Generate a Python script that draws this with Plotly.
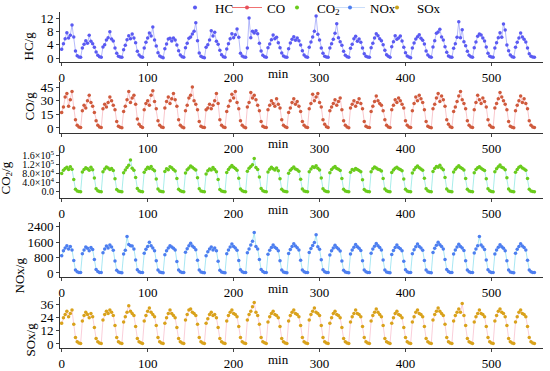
import plotly.graph_objects as go

# sampling time (min), one point every 2 min
time_min = [2 * i for i in range(276)]

hc = [
    2.6,4.3,5.8,7.6,6.0,6.8,9.9,6.3,2.1,0.7,0.3,0.2,
    3.0,4.1,5.2,4.4,6.8,5.0,4.3,3.2,1.8,0.8,0.4,0.2,
    3.3,4.0,5.4,6.1,7.9,5.7,5.1,3.0,1.4,0.5,0.3,0.2,
    2.5,3.8,5.5,6.7,5.8,7.2,6.0,4.6,2.0,0.9,0.4,0.2,
    3.0,4.7,6.0,7.5,6.6,9.3,5.4,3.6,1.6,0.6,0.3,0.1,
    2.8,4.2,5.7,5.9,5.1,6.0,5.4,3.9,2.2,0.9,0.4,0.2,
    3.1,4.4,5.9,6.3,7.2,8.0,10.6,5.2,1.5,0.5,0.2,0.1,
    3.2,4.0,5.4,8.2,6.6,7.7,5.0,4.1,2.3,1.0,0.4,0.2,
    2.7,4.3,5.8,7.3,6.1,7.0,8.7,6.2,1.4,0.6,0.3,0.2,
    3.0,12.0,6.1,8.0,7.5,8.2,7.3,4.4,2.1,0.8,0.4,0.2,
    3.1,4.2,5.5,6.9,5.8,6.2,4.6,3.1,1.5,0.6,0.3,0.2,
    2.8,4.5,5.6,6.4,5.3,6.0,5.2,3.9,2.2,0.9,0.4,0.2,
    3.2,4.8,6.3,8.0,12.6,7.1,5.4,3.0,1.4,0.5,0.3,0.2,
    3.0,4.3,5.6,7.4,10.3,6.1,4.9,3.8,2.0,0.8,0.4,0.2,
    2.9,4.1,5.8,6.5,5.0,5.7,4.7,3.0,1.3,0.5,0.3,0.2,
    3.1,4.4,6.0,7.3,6.7,5.8,5.2,4.0,2.3,1.0,0.5,0.2,
    3.4,4.9,6.7,5.6,6.0,6.6,5.1,3.2,1.6,0.6,0.3,0.1,
    3.0,4.5,5.7,6.4,7.0,5.9,5.3,4.2,2.1,0.9,0.4,0.2,
    3.3,5.2,7.4,7.8,8.6,6.3,5.4,3.4,1.7,0.6,0.3,0.2,
    2.9,4.3,6.2,10.9,6.1,8.5,4.9,3.7,2.0,0.8,0.4,0.2,
    3.1,4.8,6.5,7.2,6.9,6.0,5.1,3.3,1.4,0.5,0.3,0.2,
    3.0,4.6,6.1,7.6,6.2,10.2,8.4,3.9,2.2,0.9,0.4,0.2,
    3.2,4.7,6.0,7.5,6.3,5.6,4.8,3.0,1.3,0.5,0.3,0.2,
]

co = [
    17,23,34,38,24,31,40,22,9,3,1.0,0.5,
    19,25,22,30,36,28,24,17,8,3,1.2,0.6,
    21,26,23,28,34,30,25,20,7,2,0.8,0.4,
    18,24,31,40,28,33,36,26,10,4,1.5,0.6,
    20,27,30,25,36,41,29,21,8,3,1.0,0.5,
    22,29,34,27,32,38,31,24,9,3,1.1,0.4,
    19,25,33,36,45,30,26,20,7,2,0.9,0.5,
    20,22,26,21,25,30,38,27,9,3,1.2,0.6,
    18,24,30,37,33,40,28,21,8,3,1.0,0.4,
    23,28,39,33,36,31,25,19,7,2,0.9,0.5,
    20,25,30,27,24,32,26,22,9,3,1.3,0.6,
    17,22,28,32,26,29,24,18,7,3,1.0,0.5,
    21,27,37,30,34,38,28,23,9,4,1.4,0.6,
    19,23,27,31,25,29,33,20,8,3,1.0,0.4,
    22,26,30,24,28,32,27,21,7,2,0.8,0.5,
    18,24,29,35,30,27,25,19,9,3,1.2,0.6,
    20,25,31,28,33,30,26,22,8,3,1.0,0.5,
    19,27,34,30,36,32,28,20,7,2,0.9,0.4,
    21,26,33,38,29,35,31,24,9,4,1.3,0.6,
    18,23,29,35,40,31,27,21,8,3,1.1,0.5,
    20,28,36,31,27,33,29,23,9,3,1.0,0.5,
    22,27,32,39,34,30,26,20,7,2,0.8,0.4,
    19,25,30,35,28,32,27,21,8,3,1.0,0.5,
]

co2 = [
    82e3,96e3,104e3,110e3,99e3,112e3,101e3,55e3,12e3,4e3,1.5e3,0.8e3,
    88e3,100e3,107e3,103e3,96e3,109e3,98e3,62e3,14e3,5e3,2e3,1e3,
    90e3,102e3,111e3,106e3,99e3,104e3,95e3,58e3,11e3,4e3,1.5e3,0.7e3,
    85e3,97e3,108e3,118e3,142e3,105e3,96e3,64e3,15e3,5e3,2e3,1e3,
    87e3,99e3,110e3,104e3,113e3,101e3,94e3,57e3,13e3,4e3,1.6e3,0.8e3,
    91e3,103e3,98e3,112e3,107e3,100e3,93e3,60e3,12e3,5e3,2e3,1e3,
    84e3,98e3,106e3,115e3,109e3,103e3,97e3,63e3,14e3,4e3,1.5e3,0.7e3,
    80e3,94e3,102e3,97e3,108e3,99e3,90e3,55e3,11e3,4e3,1.8e3,0.9e3,
    86e3,100e3,109e3,117e3,110e3,104e3,96e3,61e3,13e3,5e3,2e3,1e3,
    92e3,105e3,113e3,120e3,148e3,108e3,99e3,66e3,15e3,5e3,2.2e3,1e3,
    88e3,101e3,110e3,103e3,97e3,106e3,94e3,58e3,12e3,4e3,1.5e3,0.8e3,
    83e3,96e3,104e3,111e3,102e3,98e3,92e3,56e3,13e3,4e3,1.7e3,0.8e3,
    89e3,102e3,112e3,108e3,116e3,105e3,97e3,62e3,14e3,5e3,2e3,1e3,
    85e3,99e3,107e3,113e3,104e3,101e3,95e3,59e3,12e3,4e3,1.6e3,0.7e3,
    87e3,100e3,96e3,104e3,99e3,95e3,90e3,54e3,11e3,4e3,1.5e3,0.8e3,
    90e3,103e3,111e3,106e3,101e3,98e3,93e3,60e3,13e3,5e3,2e3,1e3,
    86e3,97e3,105e3,110e3,103e3,99e3,94e3,57e3,12e3,4e3,1.7e3,0.8e3,
    84e3,98e3,108e3,115e3,107e3,102e3,96e3,61e3,14e3,5e3,2e3,1e3,
    91e3,104e3,113e3,109e3,118e3,106e3,98e3,64e3,13e3,4e3,1.8e3,0.9e3,
    88e3,101e3,110e3,116e3,108e3,104e3,97e3,60e3,12e3,4e3,1.6e3,0.8e3,
    85e3,99e3,107e3,112e3,105e3,100e3,95e3,58e3,14e3,5e3,2e3,1e3,
    89e3,103e3,112e3,119e3,110e3,106e3,98e3,63e3,13e3,4e3,1.7e3,0.8e3,
    87e3,100e3,109e3,114e3,106e3,102e3,96e3,59e3,12e3,4e3,1.5e3,0.7e3,
]

nox = [
    900,1150,1300,1420,1250,1380,1200,650,150,60,30,20,
    1000,1200,1350,1280,1150,1320,1220,700,180,70,30,20,
    1050,1250,1400,1300,1450,1350,1180,620,140,50,25,15,
    980,1180,1900,1480,1420,1400,1250,680,170,60,30,20,
    1020,1230,1380,1600,1420,1300,1150,640,150,55,25,15,
    950,1150,1300,1420,1350,1280,1200,600,160,60,30,20,
    1080,1260,1420,1550,1400,1330,1210,660,150,55,25,15,
    900,1100,1250,1350,1200,1300,1150,610,140,50,25,15,
    1000,1200,1350,1500,1380,1300,1180,650,170,60,30,20,
    1050,1250,1450,1650,2100,1380,1250,700,180,70,30,20,
    970,1180,1330,1460,1340,1270,1160,630,150,55,25,15,
    1010,1220,1370,1520,1400,1310,1190,660,160,60,30,20,
    1060,1270,1430,1580,1990,1360,1230,690,170,65,30,20,
    940,1150,1300,1440,1320,1250,1140,620,140,50,25,15,
    990,1190,1340,1480,1360,1290,1170,640,160,60,30,20,
    1030,1240,1390,1530,1410,1330,1200,670,150,55,25,15,
    960,1170,1320,1450,1330,1260,1150,610,170,65,30,20,
    1000,1210,1360,1500,1380,1300,1180,650,150,55,25,15,
    1070,1280,1440,1600,1470,1380,1240,700,180,70,30,20,
    990,1200,1350,1490,1370,1300,1170,640,160,60,30,20,
    1040,1250,1410,1900,1450,1350,1220,680,170,65,30,20,
    980,1190,1340,1470,1360,1290,1160,630,150,55,25,15,
    1020,1230,1380,1520,1400,1320,1190,660,160,60,30,20,
]

sox = [
    19,24,27,30,25,28,31,18,6,2,0.8,0.4,
    21,26,29,27,24,28,25,15,5,2,0.9,0.5,
    22,27,30,28,31,29,26,17,6,2,0.8,0.4,
    20,25,29,35,30,28,26,16,5,2,1.0,0.5,
    21,26,30,33,29,27,25,17,6,2,0.8,0.4,
    19,24,28,31,28,26,24,15,5,2,0.9,0.5,
    22,27,31,32,29,28,26,18,6,2,0.8,0.4,
    19,23,27,29,26,27,24,15,5,2,0.9,0.5,
    21,26,29,31,28,27,25,16,6,2,0.8,0.4,
    22,27,30,34,38,29,26,18,6,2,1.0,0.5,
    20,25,28,30,27,26,24,16,5,2,0.8,0.4,
    21,26,29,31,28,27,25,17,6,2,0.9,0.5,
    22,27,30,33,29,28,26,17,6,2,0.8,0.4,
    19,24,28,30,27,26,24,15,5,2,0.9,0.5,
    20,25,28,31,28,27,25,16,6,2,0.8,0.4,
    21,26,29,32,29,27,25,17,5,2,1.0,0.5,
    19,24,28,30,27,26,24,15,6,2,0.8,0.4,
    20,25,29,31,28,27,25,16,5,2,0.9,0.5,
    22,27,30,33,30,28,26,18,6,2,0.8,0.4,
    21,26,29,32,29,37,26,17,5,2,1.0,0.5,
    20,25,28,31,28,27,25,16,6,2,0.8,0.4,
    21,26,30,32,29,28,25,17,5,2,0.9,0.5,
    20,25,29,31,28,27,25,16,6,2,0.8,0.4,
]

x_ticks = [0, 100, 200, 300, 400, 500]

W, H = 550.0, 371.0
panels = [
    # name, values, marker colour, line colour, y title, range, tickvals, ticktext,
    # (top px, bottom px), (title right-edge x px, title y px)
    ("HC", hc, "#5a5af2", "rgba(120,130,245,0.55)", "HC/g", [-1.2, 13.8],
     [0, 4, 8, 12], ["0", "4", "8", "12"], (12, 62), (38, 46)),
    ("CO", co, "#cf5a3c", "rgba(245,160,170,0.6)", "CO/g", [-5.5, 50.5],
     [0, 15, 30, 45], ["0", "15", "30", "45"], (82, 133), (38, 106)),
    ("CO<sub>2</sub>", co2, "#6acb1c", "rgba(110,225,220,0.6)", "CO<sub>2</sub>/g", [-2.7e4, 1.86e5],
     [0, 4e4, 8e4, 1.2e5, 1.6e5],
     ["0.0", "4.0×10<sup>4</sup>", "8.0×10<sup>4</sup>", "1.2×10<sup>5</sup>", "1.6×10<sup>5</sup>"],
     (150, 198), (17, 178)),
    ("NOx", nox, "#4d7ef0", "rgba(110,215,235,0.6)", "NOx/g", [-210, 2650],
     [0, 800, 1600, 2400], ["0", "800", "1600", "2400"], (222, 277), (28, 276)),
    ("SOx", sox, "#d9a21b", "rgba(245,165,185,0.55)", "SOx/g", [-3.7, 43],
     [0, 12, 24, 36], ["0", "12", "24", "36"], (297, 348), (39, 340)),
]

FONT = "Liberation Serif"
fig = go.Figure()
layout = dict(
    width=550, height=371,
    margin=dict(l=0, r=0, t=0, b=0, autoexpand=False),
    paper_bgcolor="white", plot_bgcolor="white",
    font=dict(family=FONT, size=13, color="black"),
    showlegend=True,
)
annotations = []
for i, (name, vals, mcol, lcol, ytitle, yr, tv, tt, (ptop, pbot), (tx, ty)) in enumerate(panels):
    ax = "" if i == 0 else str(i + 1)
    dom = [1 - pbot / H, 1 - ptop / H]
    fig.add_trace(go.Scatter(
        x=time_min, y=vals, mode="lines+markers", name=name, showlegend=False,
        line=dict(color=lcol, width=1),
        marker=dict(color=mcol, size=3.5),
        xaxis="x" + ax, yaxis="y" + ax))
    layout["xaxis" + ax] = dict(
        domain=[60 / W, 543 / W], range=[-2, 560], anchor="y" + ax,
        tickvals=x_ticks, ticks="outside", ticklen=3, showline=True,
        linecolor="#333", linewidth=1, showgrid=False, zeroline=False,
        automargin=False,
        tickfont=dict(family=FONT, size=13), mirror=False)
    layout["yaxis" + ax] = dict(
        domain=dom, range=yr, anchor="x" + ax, tickvals=tv, ticktext=tt,
        ticks="outside", ticklen=3, showline=True, linecolor="#333", linewidth=1,
        showgrid=False, zeroline=False, automargin=False,
        tickfont=dict(family=FONT, size=10 if i == 2 else 13))
    annotations.append(dict(
        text="min", xref="paper", yref="paper", x=278 / W, y=dom[0],
        yshift=-11, xanchor="center", yanchor="middle", showarrow=False,
        font=dict(family=FONT, size=13, color="black")))
    annotations.append(dict(
        text=ytitle, xref="paper", yref="paper", x=tx / W, y=1 - ty / H,
        xanchor="right", yanchor="middle", textangle=-90, showarrow=False,
        font=dict(family=FONT, size=13, color="black")))

# legend entries: each placed as its own legend box, text starts matching the reference
legend_defs = [
    ("HC", "markers", "#5a5af2", "rgba(0,0,0,0)", 175),
    ("CO", "lines+markers", "#e8505a", "#f07070", 227),
    ("CO<sub>2</sub>", "markers", "#6acb1c", "rgba(0,0,0,0)", 277),
    ("NOx", "lines+markers", "#4d7ef0", "rgba(150,190,245,0.5)", 330),
    ("SOx", "markers", "#c9a21b", "rgba(0,0,0,0)", 377),
]
for k, (name, mode, col, lcol, lx) in enumerate(legend_defs):
    lg = "legend" if k == 0 else "legend%d" % (k + 1)
    fig.add_trace(go.Scatter(x=[None], y=[None], mode=mode, name=name, legend=lg,
                             line=dict(color=lcol, width=1),
                             marker=dict(color=col, size=4),
                             xaxis="x", yaxis="y"))
    layout[lg] = dict(orientation="h", x=lx / W, y=1.02, xanchor="left", yanchor="top",
                      font=dict(family=FONT, size=13), bgcolor="rgba(0,0,0,0)",
                      itemwidth=30)

layout["annotations"] = annotations
fig.update_layout(**layout)
fig.write_html("out.html", config={"displayModeBar": False},
               post_script="document.body.style.margin='0';document.body.style.padding='0';")
